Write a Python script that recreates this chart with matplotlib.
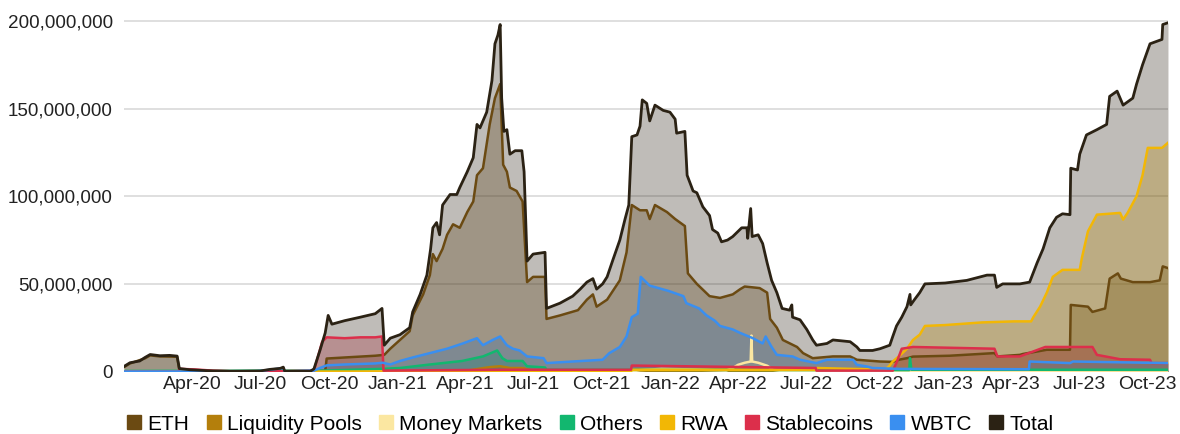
import numpy as np
import pandas as pd
import matplotlib
matplotlib.use('Agg')
import matplotlib.pyplot as plt
import matplotlib.dates as mdates
from matplotlib.lines import Line2D
from matplotlib.ticker import FuncFormatter

plt.rcParams['font.family'] = ['Liberation Sans', 'DejaVu Sans']

# values in millions
total_dates = ["2020-01-01", "2020-01-09", "2020-01-22", "2020-01-29", "2020-02-05", "2020-02-18",
               "2020-03-02", "2020-03-12", "2020-03-15", "2020-03-29", "2020-04-29", "2020-05-22",
               "2020-07-01", "2020-07-14", "2020-07-28", "2020-08-01", "2020-08-03", "2020-09-06",
               "2020-09-11", "2020-09-19", "2020-09-26", "2020-09-30", "2020-10-05", "2020-10-22",
               "2020-11-12", "2020-12-02", "2020-12-11", "2020-12-14", "2020-12-22", "2021-01-04",
               "2021-01-17", "2021-01-21", "2021-01-31", "2021-02-09", "2021-02-14", "2021-02-17",
               "2021-02-22", "2021-02-26", "2021-03-02", "2021-03-12", "2021-03-21", "2021-03-25",
               "2021-04-04", "2021-04-12", "2021-04-17", "2021-04-21", "2021-04-30", "2021-05-07",
               "2021-05-11", "2021-05-15", "2021-05-18", "2021-05-20", "2021-05-23", "2021-05-27",
               "2021-05-31", "2021-06-07", "2021-06-16", "2021-06-19", "2021-06-23", "2021-07-01",
               "2021-07-17", "2021-07-19", "2021-08-06", "2021-08-23", "2021-09-02", "2021-09-11",
               "2021-09-19", "2021-09-24", "2021-10-02", "2021-10-08", "2021-10-16", "2021-10-25",
               "2021-11-01", "2021-11-06", "2021-11-10", "2021-11-17", "2021-11-21", "2021-11-24",
               "2021-11-30", "2021-12-04", "2021-12-11", "2021-12-22", "2021-12-31", "2022-01-07",
               "2022-01-09", "2022-01-20", "2022-01-23", "2022-01-31", "2022-02-05", "2022-02-13",
               "2022-02-22", "2022-02-26", "2022-03-05", "2022-03-10", "2022-03-18", "2022-03-25",
               "2022-04-06", "2022-04-13", "2022-04-14", "2022-04-18", "2022-04-20", "2022-04-28",
               "2022-05-04", "2022-05-10", "2022-05-16", "2022-05-23", "2022-05-30", "2022-06-09",
               "2022-06-12", "2022-06-13", "2022-06-23", "2022-07-02", "2022-07-10", "2022-07-15",
               "2022-07-29", "2022-08-06", "2022-08-29", "2022-09-07", "2022-09-11", "2022-09-28",
               "2022-10-08", "2022-10-21", "2022-10-25", "2022-10-30", "2022-11-06", "2022-11-13",
               "2022-11-17", "2022-11-18", "2022-11-23", "2022-11-30", "2022-12-07", "2023-01-03",
               "2023-02-01", "2023-02-28", "2023-03-10", "2023-03-13", "2023-03-21", "2023-04-13",
               "2023-04-26", "2023-05-06", "2023-05-14", "2023-05-23", "2023-06-01", "2023-06-09",
               "2023-06-19", "2023-06-20", "2023-06-29", "2023-07-02", "2023-07-11", "2023-07-25",
               "2023-08-07", "2023-08-11", "2023-08-21", "2023-08-29", "2023-09-11", "2023-09-16",
               "2023-09-24", "2023-10-04", "2023-10-20", "2023-10-21", "2023-10-28"]
total_vals = [2.9, 5.0, 6.0, 8.0, 9.7, 9.0,
              9.2, 8.8, 1.7, 1.0, 0.3, 0.1,
              0.3, 1.2, 1.8, 2.5, 0.1, 0.1,
              1.5, 12, 22, 32, 27, 29,
              31, 33, 36, 15, 19, 21,
              25, 34, 44, 55, 70, 82,
              85, 78, 95, 101, 101, 105,
              114, 122, 141, 139, 148, 166,
              187, 192, 198, 156, 137, 138,
              124, 126, 126, 114, 63, 67,
              68, 36, 39, 43, 47, 51,
              53, 47, 50, 54, 64, 75,
              87, 95, 134, 135, 140, 155,
              153, 143, 152, 149, 148, 144,
              136, 137, 112, 103, 102, 94,
              89, 81, 79, 74, 75, 77,
              82, 82, 76, 93, 77, 78,
              73, 62, 52, 45, 36, 35,
              38, 31, 29.5, 24, 18, 15,
              16, 18, 17, 14, 12, 12,
              13, 15, 20, 26, 31, 37,
              44, 38, 41, 45, 50, 50.5,
              52, 55, 55, 48, 50, 50,
              51, 62, 70, 82, 88, 90,
              89.5, 116, 115, 124, 135, 138,
              141, 157, 160, 152, 156, 164,
              175, 187, 189.5, 198, 199]

eth_dates = ["2020-01-01", "2020-01-09", "2020-01-29", "2020-02-05", "2020-02-18", "2020-03-12",
             "2020-03-15", "2020-04-29", "2020-09-26", "2020-09-28", "2020-10-22", "2020-12-02",
             "2020-12-14", "2020-12-22", "2021-01-04", "2021-01-17", "2021-01-21", "2021-02-04",
             "2021-02-13", "2021-02-17", "2021-02-22", "2021-03-02", "2021-03-08", "2021-03-16",
             "2021-03-25", "2021-04-04", "2021-04-12", "2021-04-17", "2021-04-25", "2021-05-04",
             "2021-05-11", "2021-05-18", "2021-05-22", "2021-05-27", "2021-05-31", "2021-06-09",
             "2021-06-17", "2021-06-23", "2021-07-01", "2021-07-17", "2021-07-19", "2021-08-06",
             "2021-08-30", "2021-09-11", "2021-09-19", "2021-09-24", "2021-10-08", "2021-10-25",
             "2021-11-03", "2021-11-10", "2021-11-21", "2021-11-30", "2021-12-04", "2021-12-11",
             "2021-12-27", "2022-01-07", "2022-01-20", "2022-01-24", "2022-02-05", "2022-02-22",
             "2022-03-08", "2022-03-25", "2022-04-04", "2022-04-10", "2022-04-30", "2022-05-10",
             "2022-05-14", "2022-05-23", "2022-05-31", "2022-06-19", "2022-06-27", "2022-07-10",
             "2022-08-06", "2022-08-29", "2022-09-07", "2022-10-08", "2022-10-25", "2022-11-02",
             "2022-11-13", "2022-11-21", "2023-01-09", "2023-03-10", "2023-03-14", "2023-04-13",
             "2023-04-17", "2023-05-19", "2023-06-19", "2023-06-20", "2023-07-13", "2023-07-19",
             "2023-08-05", "2023-08-11", "2023-08-22", "2023-08-26", "2023-09-11", "2023-10-04",
             "2023-10-17", "2023-10-21", "2023-10-28"]
eth_vals = [2.5, 4.6, 7.5, 9.2, 8.6, 8.4,
            0.8, 0.2, 0.3, 7.4, 8, 9,
            9.5, 13, 18, 23, 32, 44,
            55, 67, 63, 70, 78, 84,
            82, 91, 97, 112, 116, 141,
            156, 164, 118, 114, 105, 103,
            97, 51, 54, 54, 30, 32,
            35, 41, 44, 37, 41, 52,
            68, 95, 92, 92, 87, 95,
            91, 87, 83, 56, 50, 43,
            42, 44, 47, 48.5, 47.6, 45,
            30, 25, 18, 14, 10.5, 7.6,
            8.6, 8.6, 6.7, 5.7, 5.5, 6.7,
            7.6, 8.5, 9, 10.5, 8.6, 9.5,
            10, 12.4, 12.4, 38, 37, 34,
            36, 53, 56, 53, 51, 51,
            52, 60, 59]

lp_dates = ["2020-01-01", "2021-04-01", "2021-04-11", "2021-05-04", "2021-05-18", "2021-05-31",
            "2021-06-17", "2021-06-30", "2022-10-30", "2023-10-28"]
lp_vals = [0, 0.2, 1.0, 2.5, 3.0, 2.0,
           2.0, 0.4, 0.4, 0.3]

mm_dates = ["2020-01-01", "2021-11-10", "2021-11-21", "2021-12-20", "2022-01-30", "2022-03-16",
            "2022-03-25", "2022-04-01", "2022-04-10", "2022-04-18", "2022-04-19", "2022-04-20",
            "2022-04-28", "2022-05-10", "2022-05-18", "2022-05-28", "2023-10-28"]
mm_vals = [0, 0, 0.8, 1.5, 1.2, 0.5,
           2.0, 3.8, 5.0, 5.7, 20.5, 5.7,
           5.0, 3.3, 1.0, 0.3, 0.5]

others_dates = ["2020-01-01", "2020-09-20", "2020-12-11", "2021-01-04", "2021-02-13", "2021-03-28",
                "2021-04-25", "2021-05-14", "2021-05-21", "2021-05-27", "2021-06-17", "2021-06-23",
                "2021-07-17", "2021-07-19", "2022-11-16", "2022-11-17", "2022-11-19", "2023-10-28"]
others_vals = [0.3, 0.5, 1.5, 2.0, 4.0, 6.0,
               8.6, 12, 7.6, 6.0, 6.0, 3.0,
               2.3, 1.0, 0.8, 7.6, 1.0, 1.0]

rwa_dates = ["2020-01-01", "2021-11-09", "2021-11-10", "2022-07-15", "2022-07-16", "2022-10-15",
             "2022-10-20", "2022-10-25", "2022-11-02", "2022-11-13", "2022-11-21", "2022-11-30",
             "2022-12-07", "2023-01-03", "2023-02-21", "2023-04-05", "2023-04-28", "2023-05-01",
             "2023-05-10", "2023-05-19", "2023-05-27", "2023-06-09", "2023-07-02", "2023-07-05",
             "2023-07-13", "2023-07-25", "2023-08-25", "2023-08-29", "2023-09-04", "2023-09-16",
             "2023-09-24", "2023-10-01", "2023-10-20", "2023-10-28"]
rwa_vals = [0, 0, 1.0, 1.0, 2.0, 1.0,
            3.0, 5.7, 8.6, 13, 18, 21,
            26, 26.5, 28, 28.6, 28.6, 31,
            37, 45, 54, 58, 58, 65,
            80, 89.5, 90.5, 86.7, 90.5, 100,
            112, 127.6, 127.6, 130.5]

stable_dates = ["2020-01-01", "2020-03-14", "2020-03-15", "2020-04-04", "2020-04-29", "2020-05-22",
                "2020-07-01", "2020-09-11", "2020-09-16", "2020-09-22", "2020-09-28", "2020-10-22",
                "2020-11-12", "2020-12-02", "2020-12-11", "2020-12-13", "2021-05-22", "2021-11-09",
                "2021-11-10", "2022-07-14", "2022-07-15", "2022-10-25", "2022-10-30", "2022-11-06",
                "2022-11-21", "2023-03-10", "2023-03-14", "2023-04-13", "2023-05-17", "2023-07-19",
                "2023-07-25", "2023-08-25", "2023-10-04", "2023-10-06", "2023-10-28"]
stable_vals = [0, 0, 1.5, 1.2, 0.5, 0.2,
               0, 0.5, 8, 17, 19.5, 19,
               19.5, 19.5, 20, 0.5, 1.0, 1.0,
               3.4, 2.0, 0.5, 0.5, 5, 13,
               14, 13, 8.6, 8.6, 14, 14,
               9.5, 7, 6.7, 4.8, 4.8]

wbtc_dates = ["2020-01-01", "2020-06-20", "2020-07-01", "2020-07-14", "2020-08-01", "2020-08-03",
              "2020-09-11", "2020-09-19", "2020-09-28", "2020-10-22", "2020-12-02", "2020-12-12",
              "2020-12-22", "2021-01-04", "2021-01-21", "2021-02-13", "2021-03-08", "2021-03-29",
              "2021-04-17", "2021-04-25", "2021-05-08", "2021-05-18", "2021-05-27", "2021-06-04",
              "2021-06-13", "2021-06-23", "2021-07-15", "2021-07-19", "2021-08-23", "2021-10-02",
              "2021-10-11", "2021-10-25", "2021-11-03", "2021-11-10", "2021-11-18", "2021-11-22",
              "2021-12-04", "2021-12-29", "2022-01-18", "2022-01-22", "2022-02-08", "2022-02-18",
              "2022-03-01", "2022-03-08", "2022-03-25", "2022-04-04", "2022-04-21", "2022-05-04",
              "2022-05-08", "2022-05-16", "2022-05-23", "2022-06-13", "2022-06-23", "2022-07-15",
              "2022-07-29", "2022-09-02", "2022-09-07", "2022-09-20", "2022-09-28", "2022-11-02",
              "2023-04-25", "2023-04-26", "2023-06-19", "2023-06-23", "2023-10-28"]
wbtc_vals = [0, 0, 0.3, 1.0, 2.0, 0,
             0.5, 2.0, 3.5, 4.0, 4.6, 5.0,
             4.0, 6.0, 8.0, 10.5, 13, 16,
             19, 15, 18, 20, 15, 13,
             12, 8.6, 7.6, 4.8, 5.7, 6.7,
             10.5, 14, 20, 31, 33, 54,
             49, 46, 43, 39, 36, 32,
             29, 26, 24, 22, 19, 16,
             20, 14, 9.5, 8.6, 6.7, 4.8,
             6.7, 6.7, 3.8, 2.9, 2.0, 1.5,
             1.3, 5.7, 4.8, 5.7, 4.8]

names = ['ETH', 'Liquidity Pools', 'Money Markets', 'Others', 'RWA', 'Stablecoins', 'WBTC', 'Total']
colors = ['#6b4a12', '#b47f0c', '#fbe7a1', '#12b76f', '#f2b705', '#dc2f4b', '#3a8ff0', '#2b2214']
data = [(eth_dates, eth_vals), (lp_dates, lp_vals), (mm_dates, mm_vals),
        (others_dates, others_vals), (rwa_dates, rwa_vals), (stable_dates, stable_vals),
        (wbtc_dates, wbtc_vals), (total_dates, total_vals)]

fig = plt.figure(figsize=(11.8, 4.34), dpi=100)
ax = fig.add_axes([0.1051, 0.1440, 0.8847, 0.8116])

# fills in legend order, Total last (on top); lines above all fills
for z, (name, c, (d, v)) in enumerate(zip(names, colors, data)):
    d = pd.to_datetime(d)
    v = np.array(v) * 1e6
    ax.fill_between(d, 0, v, color=c, alpha=0.3, linewidth=0, zorder=2 + z)
    ax.plot(d, v, color=c, linewidth=2.0 if name == 'Total' else 1.8, zorder=20 + z)

ax.set_xlim(pd.Timestamp('2020-01-01'), pd.Timestamp('2023-10-28'))
ax.set_ylim(0, 2.01e8)
ax.set_yticks([0, 5e7, 1e8, 1.5e8, 2e8])
ax.yaxis.set_major_formatter(FuncFormatter(lambda y, p: f'{int(y):,}'))
ax.set_xticks(pd.date_range('2020-04-01', '2023-10-01', freq='QS'))
ax.xaxis.set_major_formatter(mdates.DateFormatter('%b-%y'))
ax.tick_params(axis='both', length=0, labelsize=14, colors='#222222')
ax.tick_params(axis='y', pad=8, labelsize=13.6)
ax.tick_params(axis='x', pad=3)
ax.grid(axis='y', color='#d9d9d9', linewidth=1.2, zorder=0)
ax.set_axisbelow(True)
for s in ax.spines.values():
    s.set_visible(False)

handles = [Line2D([], [], marker='s', linestyle='none', markersize=9.5, color=c) for c in colors]
fig.legend(handles, names, loc='center', bbox_to_anchor=(0.5, 1 - 424 / 434), ncol=8,
           frameon=False, fontsize=15, handletextpad=0.25, columnspacing=0.75,
           handlelength=0.8, borderaxespad=0)

plt.savefig('out.png', dpi=100)
plt.close()
